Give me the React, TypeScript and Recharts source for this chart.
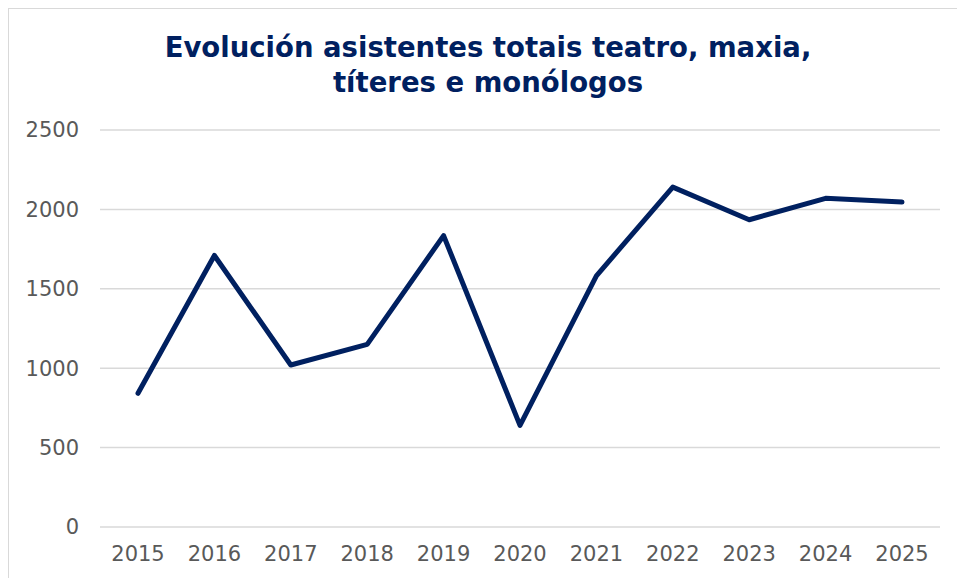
import React from "react";
import { LineChart, Line, XAxis, YAxis, CartesianGrid } from "recharts";

const anos = ["2015", "2016", "2017", "2018", "2019", "2020", "2021", "2022", "2023", "2024", "2025"];
const asistentes = [842, 1710, 1020, 1150, 1835, 640, 1582, 2140, 1935, 2070, 2046];
const ticksY = [0, 500, 1000, 1500, 2000, 2500];

const data = anos.map((ano, i) => ({ ano, asistentes: asistentes[i] }));

const FONT = "'DejaVu Sans', Verdana, sans-serif";

export default function App() {
  return (
    <>
      <style>{"html,body{overflow:hidden} body{margin:8px 0 0 8px}"}</style>
      <div
        style={{
          position: "relative",
          width: 948,
          height: 569,
          borderTop: "1px solid #d9d9d9",
          borderLeft: "1px solid #d9d9d9",
          background: "#fff",
          fontFamily: FONT,
          overflow: "hidden",
        }}
      >
        <div
          style={{
            position: "absolute",
            left: 10,
            width: 938,
            top: 21,
            textAlign: "center",
            fontSize: 27.5,
            lineHeight: "35px",
            fontWeight: "bold",
            color: "#002060",
            whiteSpace: "nowrap",
          }}
        >
          Evolución asistentes totais teatro, maxia,
          <br />
          títeres e monólogos
        </div>
        <div style={{ position: "absolute", left: 0, top: 0 }}>
          <LineChart
            width={948}
            height={569}
            data={data}
            margin={{ top: 121, right: 17, bottom: 32, left: 0 }}
          >
            <CartesianGrid vertical={false} stroke="#d9d9d9" strokeWidth={1.5} />
            <XAxis
              dataKey="ano"
              axisLine={false}
              tickLine={false}
              tickSize={0}
              tickMargin={19}
              height={19}
              interval={0}
              padding={{ left: 38, right: 38 }}
              tick={{ fontSize: 21, fill: "#595959", fontFamily: FONT }}
            />
            <YAxis
              domain={[0, 2500]}
              ticks={ticksY}
              width={91}
              axisLine={false}
              tickLine={false}
              tickSize={0}
              tickMargin={21}
              tick={{ fontSize: 21, fill: "#595959", fontFamily: FONT }}
            />
            <Line
              type="linear"
              dataKey="asistentes"
              stroke="#002060"
              strokeWidth={5}
              strokeLinejoin="round"
              strokeLinecap="round"
              dot={false}
              activeDot={false}
              isAnimationActive={false}
            />
          </LineChart>
        </div>
      </div>
    </>
  );
}
